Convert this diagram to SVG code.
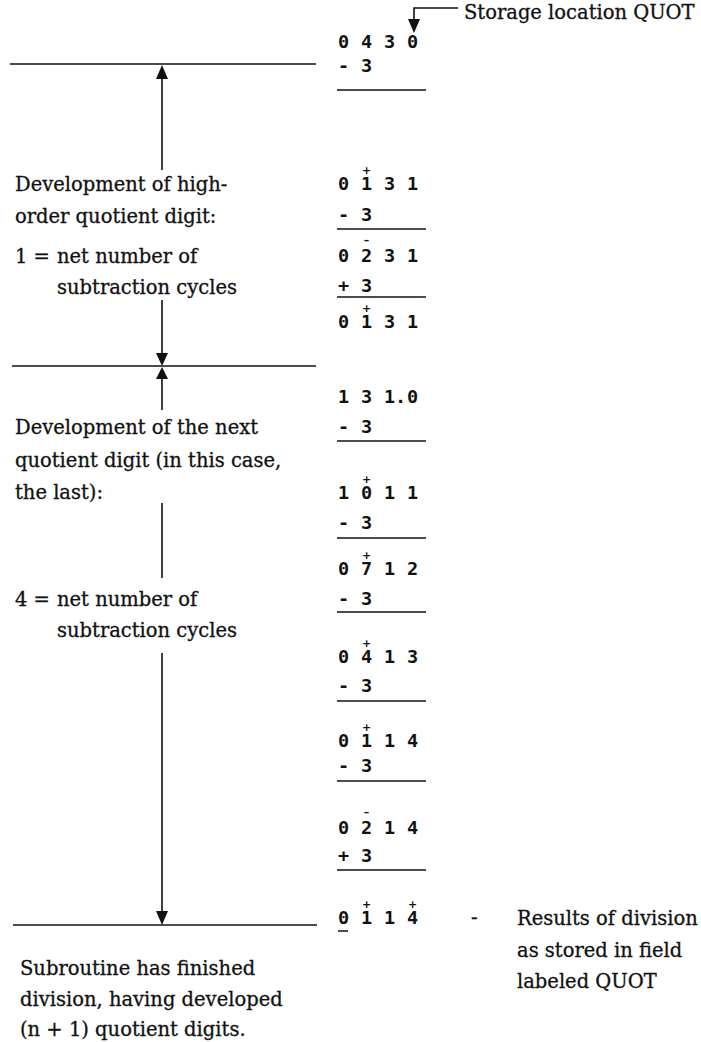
<svg xmlns="http://www.w3.org/2000/svg" width="701" height="1042" viewBox="0 0 701 1042">
<style>
.t{font-family:"DejaVu Serif","Liberation Serif",serif;font-size:19.5px;fill:#111;stroke:#111;stroke-width:0.3}
.d{font-family:"DejaVu Sans Mono","Liberation Mono",monospace;font-size:18.5px;font-weight:bold;fill:#111}
.m{font-family:"DejaVu Sans","Liberation Sans",sans-serif;font-size:11px;font-weight:bold}
.ln{stroke:#111;stroke-width:1.6;fill:none}
.ul{stroke:#111;stroke-width:1.5;fill:none}
.ah{fill:#111}
</style>
<rect width="701" height="1042" fill="#fff"/>
<g id="connectors">
<path class="ln" d="M458 8H414V22"/>
<polygon class="ah" points="408,19 420,19 414,33"/>
<line class="ln" x1="10" y1="64" x2="316" y2="64"/>
<line class="ln" x1="162" y1="170" x2="162" y2="76"/>
<polygon class="ah" points="156,79 168,79 162,65"/>
<line class="ln" x1="162" y1="300" x2="162" y2="356"/>
<polygon class="ah" points="156,353 168,353 162,366"/>
<line class="ln" x1="12" y1="366" x2="316" y2="366"/>
<polygon class="ah" points="156,379 168,379 162,367"/>
<line class="ln" x1="162" y1="377" x2="162" y2="410"/>
<line class="ln" x1="162" y1="503" x2="162" y2="578"/>
<line class="ln" x1="162" y1="653" x2="162" y2="914"/>
<polygon class="ah" points="156,911 168,911 162,925"/>
<line class="ln" x1="13" y1="925" x2="317" y2="925"/>
</g>
<g id="storage-label"><text class="t" x="464" y="19">Storage location QUOT</text></g>
<g id="label-high-order">
<text class="t" x="15" y="191">Development of high-</text>
<text class="t" x="15" y="223">order quotient digit:</text>
<text class="t" x="15" y="263">1 = <tspan x="57">net number of</tspan></text>
<text class="t" x="57" y="294">subtraction cycles</text>
</g>
<g id="label-next">
<text class="t" x="15" y="434">Development of the next</text>
<text class="t" x="15" y="467">quotient digit (in this case,</text>
<text class="t" x="15" y="499">the last):</text>
<text class="t" x="15" y="606">4 = <tspan x="57">net number of</tspan></text>
<text class="t" x="57" y="637">subtraction cycles</text>
</g>
<g id="label-finished">
<text class="t" x="20" y="975">Subroutine has finished</text>
<text class="t" x="20" y="1006">division, having developed</text>
<text class="t" x="20" y="1036">(n + 1) quotient digits.</text>
</g>
<g id="label-results">
<text class="t" x="471" y="924">-</text>
<text class="t" x="517" y="925">Results of division</text>
<text class="t" x="517" y="957">as stored in field</text>
<text class="t" x="517" y="988">labeled QUOT</text>
</g>
<g id="computation">
<text class="d" x="338 361 384 407" y="48">0430</text>
<text class="d" x="338 361" y="72">-3</text>
<line class="ul" x1="337" y1="90" x2="426" y2="90"/>
<text class="d" y="190"><tspan x="338 361 384 407">0131</tspan><tspan class="m" x="362" y="174">+</tspan></text>
<text class="d" x="338 361" y="221">-3</text>
<line class="ul" x1="337" y1="229" x2="426" y2="229"/>
<text class="d" y="262"><tspan x="338 361 384 407">0231</tspan><tspan class="m" x="363.8" y="244">–</tspan></text>
<text class="d" x="338 361" y="292">+3</text>
<line class="ul" x1="337" y1="297" x2="426" y2="297"/>
<text class="d" y="328"><tspan x="338 361 384 407">0131</tspan><tspan class="m" x="362" y="312">+</tspan></text>
<text class="d" x="338 361 384 395 407" y="403">131.0</text>
<text class="d" x="338 361" y="433">-3</text>
<line class="ul" x1="337" y1="441" x2="426" y2="441"/>
<text class="d" y="499"><tspan x="338 361 384 407">1011</tspan><tspan class="m" x="362" y="483">+</tspan></text>
<text class="d" x="338 361" y="529">-3</text>
<line class="ul" x1="337" y1="538" x2="426" y2="538"/>
<text class="d" y="575"><tspan x="338 361 384 407">0712</tspan><tspan class="m" x="362" y="559">+</tspan></text>
<text class="d" x="338 361" y="605">-3</text>
<line class="ul" x1="337" y1="612" x2="426" y2="612"/>
<text class="d" y="663"><tspan x="338 361 384 407">0413</tspan><tspan class="m" x="362" y="647">+</tspan></text>
<text class="d" x="338 361" y="692">-3</text>
<line class="ul" x1="337" y1="701" x2="426" y2="701"/>
<text class="d" y="747"><tspan x="338 361 384 407">0114</tspan><tspan class="m" x="362" y="731">+</tspan></text>
<text class="d" x="338 361" y="772">-3</text>
<line class="ul" x1="337" y1="781" x2="426" y2="781"/>
<text class="d" y="834"><tspan x="338 361 384 407">0214</tspan><tspan class="m" x="363.8" y="816">–</tspan></text>
<text class="d" x="338 361" y="862">+3</text>
<line class="ul" x1="337" y1="870" x2="426" y2="870"/>
<text class="d" y="924"><tspan x="338 361 384 407">0114</tspan><tspan class="m" x="362" y="908">+</tspan><tspan class="m" x="408" y="908">+</tspan></text>
<line class="ul" x1="338" y1="931" x2="348" y2="931"/>
</g>
</svg>
